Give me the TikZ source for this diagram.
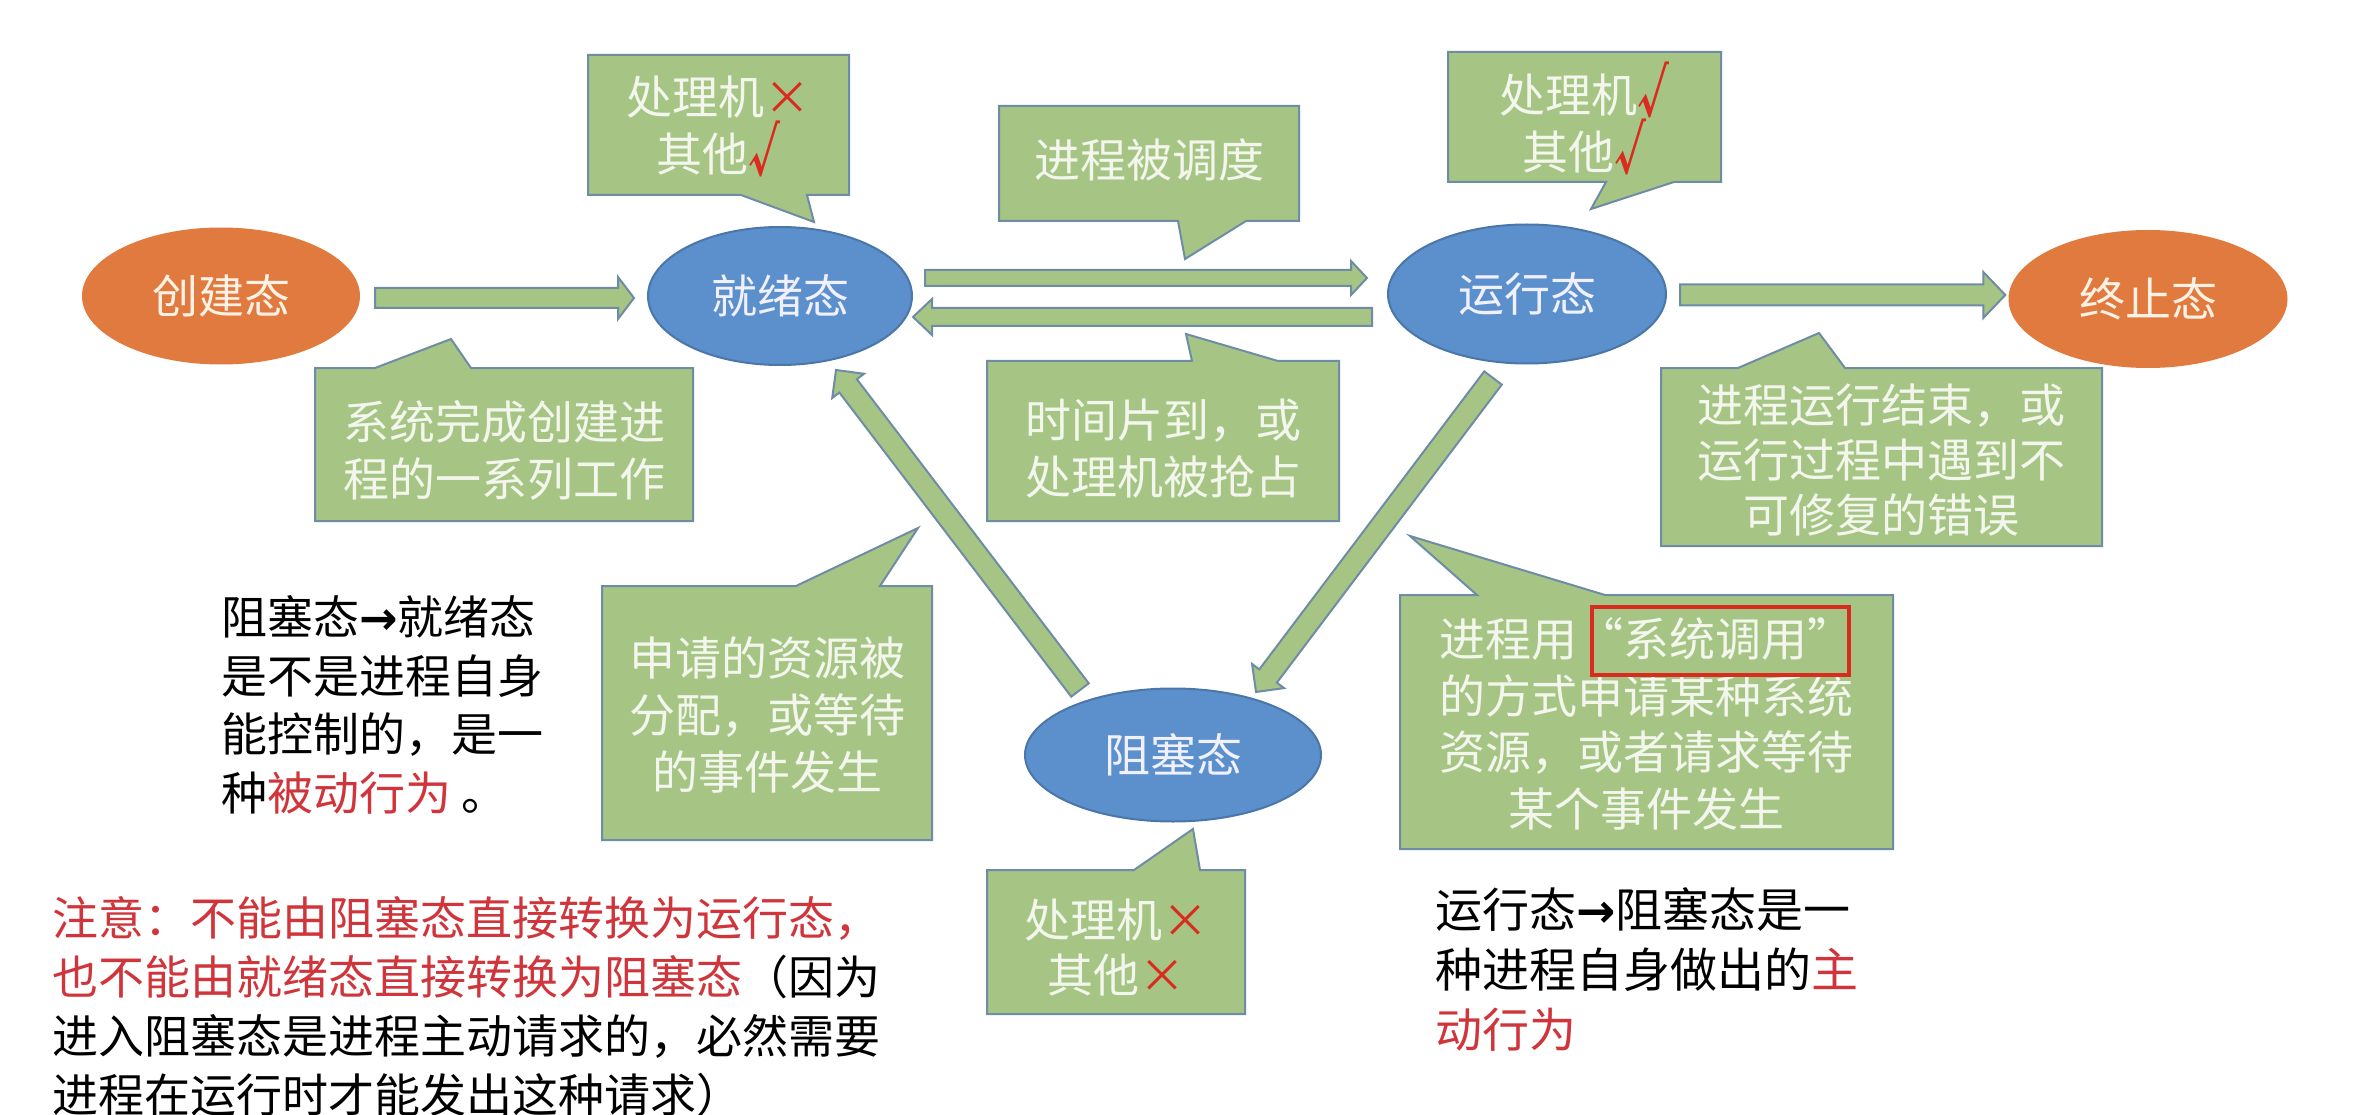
\documentclass[tikz,border=0pt]{standalone}
\usepackage{fontspec}
\usepackage{trimclip}
\setmainfont{Noto Sans CJK SC}
\newfontfamily\arrowfont{DejaVu Sans}
\usetikzlibrary{shapes.geometric,calc}
\definecolor{orangeS}{HTML}{E07A3E}
\definecolor{blueS}{HTML}{5B90CD}
\definecolor{blueEdge}{HTML}{4A76A8}
\definecolor{calloutFill}{HTML}{A6C584}
\definecolor{calloutEdge}{HTML}{6E8CA6}
\definecolor{calloutText}{HTML}{F3F6EC}
\definecolor{noteRed}{HTML}{D0353B}
\definecolor{markRed}{HTML}{D92B1F}
\newcommand\chk{{\color{markRed}\bfseries\scalebox{1.1}[1.25]{\clipbox{0pt 0pt 0.38em 0pt}{√}}}}
\newcommand\crs{{\color{markRed}×}}
\tikzset{
  state/.style={ellipse, inner sep=0pt, font=\fontsize{46}{50}\selectfont},
  orangestate/.style={state, fill=orangeS, text=white!90!orange},
  bluestate/.style={state, fill=blueS, draw=blueEdge, line width=2pt, text=white!94!blue},
  callout/.style={fill=calloutFill, draw=calloutEdge, line width=2pt, line join=miter},
  ctext/.style={align=center, text=calloutText, inner sep=0pt, font=\fontsize{46}{57}\selectfont},
  blockarrow/.style={fill=calloutFill, draw=calloutEdge, line width=2pt, line join=miter},
  plaintext/.style={align=left, anchor=west, inner sep=0pt, text=black, font=\fontsize{46}{58.5}\selectfont},
  redbox/.style={draw=markRed, line width=4pt}
}
% from, to, body half width, head half width, head length
\newcommand\blockarrow[5]{%
  \coordinate (ba-h) at ($(#2)!#5!(#1)$);
  \path[blockarrow] ($(#1)!#3!90:(#2)$) -- ($(ba-h)!#3!-90:(#1)$) -- ($(ba-h)!#4!-90:(#1)$) -- (#2)
     -- ($(ba-h)!#4!90:(#1)$) -- ($(ba-h)!#3!90:(#1)$) -- ($(#1)!#3!-90:(#2)$) -- cycle;
}
\begin{document}
\begin{tikzpicture}[x=1pt,y=-1pt]
\useasboundingbox (0,0) rectangle (2354,1115);
\fill[white] (0,0) rectangle (2354,1115);

% states
\node[orangestate, minimum width=278pt, minimum height=137pt] (create) at (221,296) {创建态};
\node[bluestate, minimum width=264pt, minimum height=138pt] (ready) at (780,296) {就绪态};
\node[bluestate, minimum width=278pt, minimum height=139pt] (run) at (1527,294) {运行态};
\node[orangestate, minimum width=279pt, minimum height=138pt] (term) at (2148,299) {终止态};
\node[bluestate, minimum width=296pt, minimum height=133pt] (block) at (1173,755) {阻塞态};

% arrow end points
\coordinate (a1s) at ($(create.east)+(15,2)$);
\coordinate (a1e) at ($(ready.west)+(-13,2)$);
\coordinate (a2s) at ($(ready.east)+(12,-18)$);
\coordinate (a2e) at ($(run.west)+(-20,-16)$);
\coordinate (a3s) at ($(run.west)+(-15,23)$);
\coordinate (a3e) at ($(ready.east)+(0,21)$);
\coordinate (a4s) at ($(run.east)+(13,1)$);
\coordinate (a4e) at ($(term.west)+(-3,-4)$);
\coordinate (a5s) at ($(run)+(-34,84)$);
\coordinate (a5e) at ($(block)+(83,-63)$);
\coordinate (a6s) at ($(block)+(-93,-65)$);
\coordinate (a6e) at ($(ready)+(56,74)$);

\blockarrow{a1s}{a1e}{10pt}{21pt}{16pt}
\blockarrow{a2s}{a2e}{8pt}{17pt}{16pt}
\blockarrow{a3s}{a3e}{9pt}{18pt}{19pt}
\blockarrow{a4s}{a4e}{10.5pt}{23pt}{22pt}
\blockarrow{a5s}{a5e}{11pt}{20pt}{20pt}
\blockarrow{a6s}{a6e}{11pt}{20pt}{20pt}

% callouts
% C1 系统完成创建进程
\path[callout] (315,368) -- (375,368) -- (451,339) -- (471,368) -- (693,368) -- (693,521) -- (315,521) -- cycle;
\node[ctext] (c1) at (504,450) {系统完成创建进\\程的一系列工作};
% C2 就绪态 上方
\path[callout] (588,55) -- (849,55) -- (849,195) -- (807,195) -- (814,222) -- (741,195) -- (588,195) -- cycle;
\node[ctext] (c2) at (718,126) {处理机\crs\\其他\chk};
% C3 进程被调度
\path[callout] (999,106) -- (1299,106) -- (1299,221) -- (1246,221) -- (1185,259) -- (1178,221) -- (999,221) -- cycle;
\node[ctext] (c3) at (1149,160) {进程被调度};
% C4 运行态 上方
\path[callout] (1448,52) -- (1721,52) -- (1721,182) -- (1674,182) -- (1591,209) -- (1606,182) -- (1448,182) -- cycle;
\node[ctext] (c4) at (1584,118) {处理机\chk\\其他\chk};
% C5 时间片到
\path[callout] (987,361) -- (1192,361) -- (1186,334) -- (1278,361) -- (1339,361) -- (1339,521) -- (987,521) -- cycle;
\node[ctext] (c5) at (1163,449) {时间片到，或\\处理机被抢占};
% C6 进程运行结束
\path[callout] (1661,368) -- (1738,368) -- (1819,333) -- (1845,368) -- (2102,368) -- (2102,546) -- (1661,546) -- cycle;
\node[ctext, font=\fontsize{46}{55}\selectfont] (c6) at (1881,460) {进程运行结束，或\\运行过程中遇到不\\可修复的错误};
% C7 申请的资源被分配
\path[callout] (602,586) -- (796,586) -- (918,528) -- (880,586) -- (932,586) -- (932,840) -- (602,840) -- cycle;
\node[ctext] (c7) at (767,715) {申请的资源被\\分配，或等待\\的事件发生};
% C8 系统调用
\path[callout] (1400,595) -- (1477,595) -- (1410,536) -- (1605,595) -- (1893,595) -- (1893,849) -- (1400,849) -- cycle;
\node[ctext, font=\fontsize{46}{56.5}\selectfont] (c8) at (1646,724) {进程用“系统调用”\\的方式申请某种系统\\资源，或者请求等待\\某个事件发生};
\draw[redbox] (1592,607) rectangle (1849,675);
% C9 阻塞态 下方
\path[callout] (987,870) -- (1134,870) -- (1193,829) -- (1200,870) -- (1245,870) -- (1245,1014) -- (987,1014) -- cycle;
\node[ctext, font=\fontsize{46}{55}\selectfont] (c9) at (1116,947) {处理机\crs\\其他\crs};

% plain notes
\node[plaintext] (t1) at (221,705) {阻塞态{\arrowfont\bfseries →}就绪态\\是不是进程自身\\能控制的，是一\\种{\color{noteRed}被动行为} 。};
\node[plaintext, font=\fontsize{46}{59}\selectfont] (t2) at (52,1007) {{\color{noteRed}注意：不能由阻塞态直接转换为运行态，}\\{\color{noteRed}也不能由就绪态直接转换为阻塞态}（因为\\进入阻塞态是进程主动请求的，必然需要\\进程在运行时才能发出这种请求）};
\node[plaintext, font=\fontsize{47}{60}\selectfont] (t3) at (1435,970) {运行态{\arrowfont\bfseries →}阻塞态是一\\种进程自身做出的{\color{noteRed}主}\\{\color{noteRed}动行为}};
\end{tikzpicture}
\end{document}
